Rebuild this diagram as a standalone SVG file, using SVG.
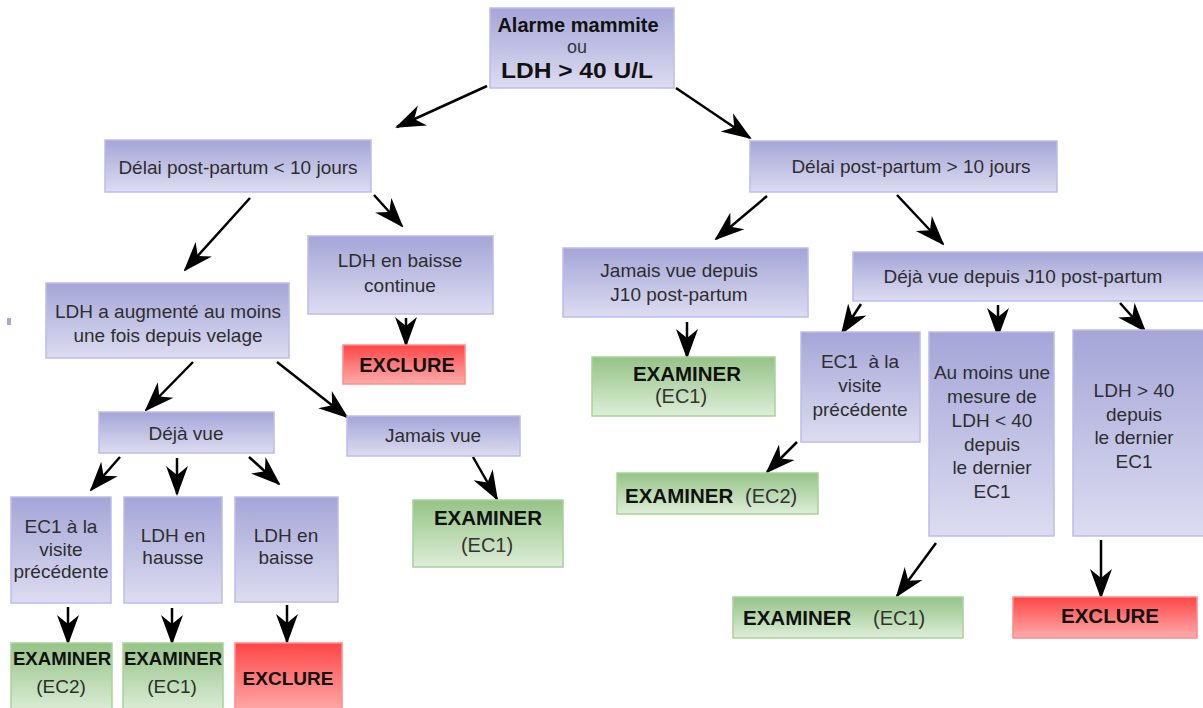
<svg xmlns="http://www.w3.org/2000/svg" width="1203" height="708" viewBox="0 0 1203 708">
<defs>
<linearGradient id="gB" x1="0" y1="0" x2="0" y2="1"><stop offset="0" stop-color="#a5a5d8"/><stop offset="1" stop-color="#dcdcf1"/></linearGradient>
<linearGradient id="gG" x1="0" y1="0" x2="0" y2="1"><stop offset="0" stop-color="#95c386"/><stop offset="1" stop-color="#ddeed8"/></linearGradient>
<linearGradient id="gR" x1="0" y1="0" x2="0" y2="1"><stop offset="0" stop-color="#ff4646"/><stop offset="1" stop-color="#ffacac"/></linearGradient>
<marker id="ah" markerUnits="userSpaceOnUse" markerWidth="30" markerHeight="24" viewBox="0 0 30 24" refX="28" refY="12" orient="auto"><path d="M0,1 L30,12 L0,23 L9,12 z" fill="#000"/></marker>
</defs>
<style>
.b{fill:url(#gB);stroke:#bcbcec;stroke-width:1.5}
.g{fill:url(#gG);stroke:#a9d29b;stroke-width:1.5}
.r{fill:url(#gR);stroke:#ff8a8a;stroke-width:1.5}
text{font-family:"Liberation Sans",Arial,sans-serif;text-anchor:middle}
.t{font-size:19px;fill:#2e2e2e}
.bd{font-weight:bold;fill:#111}
.e{font-size:20px;fill:#333}
.s{text-anchor:start}
.c line{stroke:#000;stroke-width:2.5}
</style>
<rect x="7" y="318" width="4" height="7" fill="#a8a8e0"/>
<g id="connectors" class="c">
<line x1="487" y1="86" x2="397" y2="127" marker-end="url(#ah)"/>
<line x1="676" y1="88" x2="750" y2="138" marker-end="url(#ah)"/>
<line x1="250" y1="198" x2="185" y2="270" marker-end="url(#ah)"/>
<line x1="374" y1="195" x2="402" y2="226" marker-end="url(#ah)"/>
<line x1="406" y1="318" x2="406" y2="345" marker-end="url(#ah)"/>
<line x1="193" y1="362" x2="146" y2="410" marker-end="url(#ah)"/>
<line x1="277" y1="362" x2="347" y2="417" marker-end="url(#ah)"/>
<line x1="120" y1="457" x2="91" y2="490" marker-end="url(#ah)"/>
<line x1="177" y1="458" x2="177" y2="494" marker-end="url(#ah)"/>
<line x1="249" y1="457" x2="279" y2="484" marker-end="url(#ah)"/>
<line x1="68" y1="607" x2="68" y2="643" marker-end="url(#ah)"/>
<line x1="172" y1="608" x2="172" y2="643" marker-end="url(#ah)"/>
<line x1="287" y1="605" x2="287" y2="642" marker-end="url(#ah)"/>
<line x1="473" y1="457" x2="497" y2="499" marker-end="url(#ah)"/>
<line x1="767" y1="196" x2="716" y2="239" marker-end="url(#ah)"/>
<line x1="897" y1="195" x2="943" y2="244" marker-end="url(#ah)"/>
<line x1="687" y1="322" x2="687" y2="357" marker-end="url(#ah)"/>
<line x1="861" y1="304" x2="842" y2="333" marker-end="url(#ah)"/>
<line x1="998" y1="305" x2="998" y2="336" marker-end="url(#ah)"/>
<line x1="1120" y1="303" x2="1145" y2="331" marker-end="url(#ah)"/>
<line x1="797" y1="442" x2="767" y2="472" marker-end="url(#ah)"/>
<line x1="936" y1="543" x2="897" y2="596" marker-end="url(#ah)"/>
<line x1="1101" y1="540" x2="1101" y2="597" marker-end="url(#ah)"/>
</g>
<g id="n0"><rect class="b" x="490" y="8" width="184" height="80"/>
<text class="bd" x="578" y="32" font-size="20">Alarme mammite</text>
<text x="577" y="53" font-size="18" fill="#333">ou</text>
<text class="bd" x="577" y="78" font-size="22" textLength="152" lengthAdjust="spacingAndGlyphs">LDH &gt; 40 U/L</text></g>
<g id="n1"><rect class="b" x="105" y="140" width="266" height="52"/><text class="t" x="238" y="174">Délai post-partum &lt; 10 jours</text></g>
<g id="n2"><rect class="b" x="750" y="141" width="307" height="51"/><text class="t" x="911" y="173">Délai post-partum &gt; 10 jours</text></g>
<g id="n3"><rect class="b" x="46" y="283" width="243" height="75"/><text class="t" x="168" y="318">LDH a augmenté au moins</text><text class="t" x="168" y="342">une fois depuis velage</text></g>
<g id="n4"><rect class="b" x="308" y="236" width="185" height="78"/><text class="t" x="400" y="267">LDH en baisse</text><text class="t" x="400" y="292">continue</text></g>
<g id="n5"><rect class="r" x="343" y="345" width="122" height="39"/><text class="bd" x="407" y="372" font-size="20">EXCLURE</text></g>
<g id="n6"><rect class="b" x="99" y="412" width="175" height="41"/><text class="t" x="186" y="440">Déjà vue</text></g>
<g id="n7"><rect class="b" x="347" y="416" width="173" height="40"/><text class="t" x="433" y="442">Jamais vue</text></g>
<g id="n8"><rect class="g" x="413" y="500" width="150" height="67"/><text class="bd" x="488" y="525" font-size="20.5">EXAMINER</text><text class="e" x="487" y="552">(EC1)</text></g>
<g id="n9"><rect class="b" x="11" y="497" width="100" height="106"/><text class="t" x="61" y="533" font-size="18.5">EC1 à la</text><text class="t" x="61" y="556" font-size="18.5">visite</text><text class="t" x="61" y="578" font-size="18.5">précédente</text></g>
<g id="n10"><rect class="b" x="124" y="497" width="98" height="106"/><text class="t" x="173" y="542">LDH en</text><text class="t" x="173" y="564">hausse</text></g>
<g id="n11"><rect class="b" x="235" y="497" width="103" height="105"/><text class="t" x="286" y="542">LDH en</text><text class="t" x="286" y="564">baisse</text></g>
<g id="n12"><rect class="g" x="11" y="643" width="101" height="70"/><text class="bd" x="62" y="665" font-size="18.6">EXAMINER</text><text class="t" x="61" y="693" font-size="18.5">(EC2)</text></g>
<g id="n13"><rect class="g" x="123" y="643" width="100" height="70"/><text class="bd" x="173" y="665" font-size="18.6">EXAMINER</text><text class="t" x="172" y="693" font-size="18.5">(EC1)</text></g>
<g id="n14"><rect class="r" x="235" y="643" width="107" height="70"/><text class="bd" x="288" y="685" font-size="19">EXCLURE</text></g>
<g id="n15"><rect class="b" x="563" y="248" width="245" height="69"/><text class="t" x="679" y="277">Jamais vue depuis</text><text class="t" x="679" y="301">J10 post-partum</text></g>
<g id="n16"><rect class="g" x="592" y="357" width="183" height="59"/><text class="bd" x="687" y="381" font-size="20.5">EXAMINER</text><text class="e" x="681" y="403">(EC1)</text></g>
<g id="n17"><rect class="b" x="853" y="252" width="352" height="49"/><text class="t" x="1023" y="283">Déjà vue depuis J10 post-partum</text></g>
<g id="n18"><rect class="b" x="801" y="332" width="119" height="110"/><text class="t" x="860" y="368" style="white-space:pre">EC1  à la</text><text class="t" x="860" y="392">visite</text><text class="t" x="860" y="416">précédente</text></g>
<g id="n19"><rect class="b" x="929" y="332" width="125" height="204"/><text class="t" x="992" y="379">Au moins une</text><text class="t" x="992" y="403">mesure de</text><text class="t" x="992" y="427">LDH &lt; 40</text><text class="t" x="992" y="451">depuis</text><text class="t" x="992" y="474">le dernier</text><text class="t" x="992" y="498">EC1</text></g>
<g id="n20"><rect class="b" x="1073" y="330" width="132" height="206"/><text class="t" x="1134" y="397">LDH &gt; 40</text><text class="t" x="1134" y="421">depuis</text><text class="t" x="1134" y="444">le dernier</text><text class="t" x="1134" y="468">EC1</text></g>
<g id="n21"><rect class="g" x="617" y="473" width="201" height="41"/><text class="bd s" x="625" y="503" font-size="20.5">EXAMINER</text><text class="e s" x="745" y="503">(EC2)</text></g>
<g id="n22"><rect class="g" x="733" y="597" width="230" height="41"/><text class="bd s" x="743" y="625" font-size="20.5">EXAMINER</text><text class="e s" x="873" y="625">(EC1)</text></g>
<g id="n23"><rect class="r" x="1013" y="597" width="184" height="41"/><text class="bd" x="1110" y="623" font-size="20.5">EXCLURE</text></g>
</svg>
